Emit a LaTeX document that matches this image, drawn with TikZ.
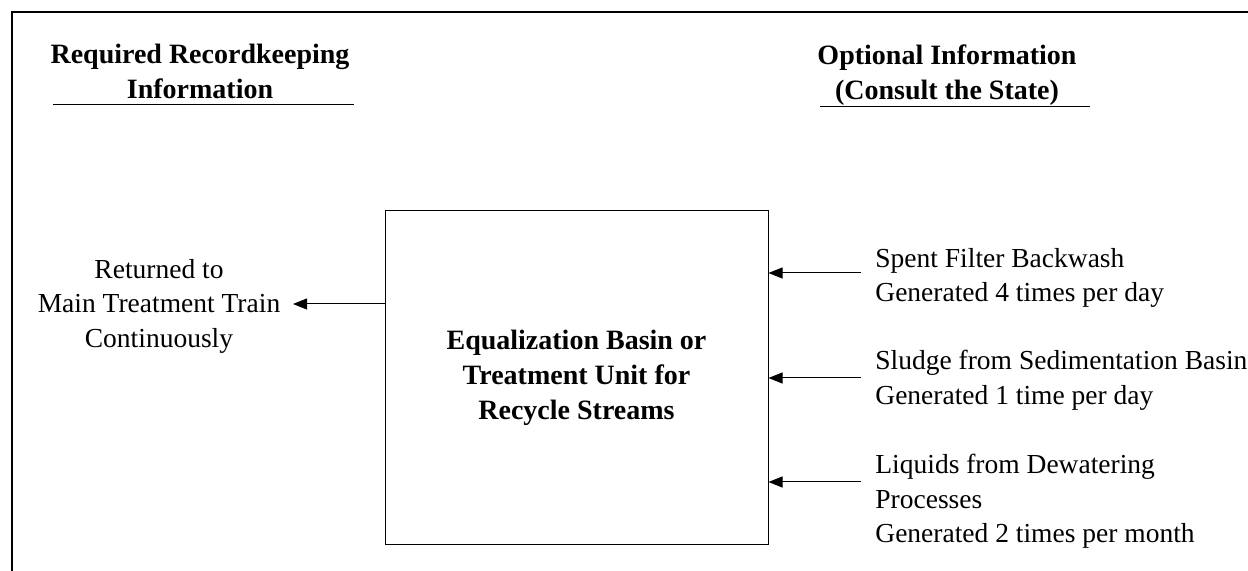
\documentclass[tikz,border=0pt]{standalone}
\usepackage{fontspec}
\setmainfont{Liberation Serif}
\usepackage{tikz}
\usetikzlibrary{arrows.meta}
\tikzset{every node/.style={inner sep=0pt, align=center, font=\fontsize{13.75}{17.25}\selectfont}}
\tikzset{hd/.style={font=\fontsize{14}{17.5}\selectfont\bfseries}}
\tikzset{arr/.style={-{Triangle[length=7pt, width=5.5pt]}, line width=0.5pt}}

\begin{document}
\begin{tikzpicture}[x=0.5pt, y=-0.5pt]
\useasboundingbox (0,0) rectangle (1248,571);
\draw[line width=1pt] (12,571) -- (12,12) -- (1248,12);

\node[hd, anchor=north] (rk) at (200,44) {Required Recordkeeping\\Information};
\node[hd, anchor=north] (op) at (947,44) {Optional Information\\(Consult the State)};
\draw[line width=0.5pt] (53,105) -- (354,105);
\draw[line width=0.5pt] (820,107) -- (1090,107);

\node[hd, draw, line width=0.5pt, minimum width=191.5pt, minimum height=167pt] (eq) at (576.5,378) {Equalization Basin or\\Treatment Unit for\\Recycle Streams};

\node[anchor=north] (ret) at (159,259) {Returned to\\Main Treatment Train\\Continuously};
\coordinate (r) at (293,304);
\draw[arr] (r -| eq.west) -- (r);

\begin{scope}[every node/.append style={anchor=north west, align=left}]
\node (s1) at (875,248) {Spent Filter Backwash\\Generated 4 times per day};
\node (s2) at (875,350) {Sludge from Sedimentation Basin\\Generated 1 time per day};
\node (s3) at (875,454) {Liquids from Dewatering\\Processes\\Generated 2 times per month};
\end{scope}

\coordinate (a1) at (861,273);
\coordinate (a2) at (861,378);
\coordinate (a3) at (861,482);
\draw[arr] (a1) -- (a1 -| eq.east);
\draw[arr] (a2) -- (a2 -| eq.east);
\draw[arr] (a3) -- (a3 -| eq.east);

\end{tikzpicture}
\end{document}
